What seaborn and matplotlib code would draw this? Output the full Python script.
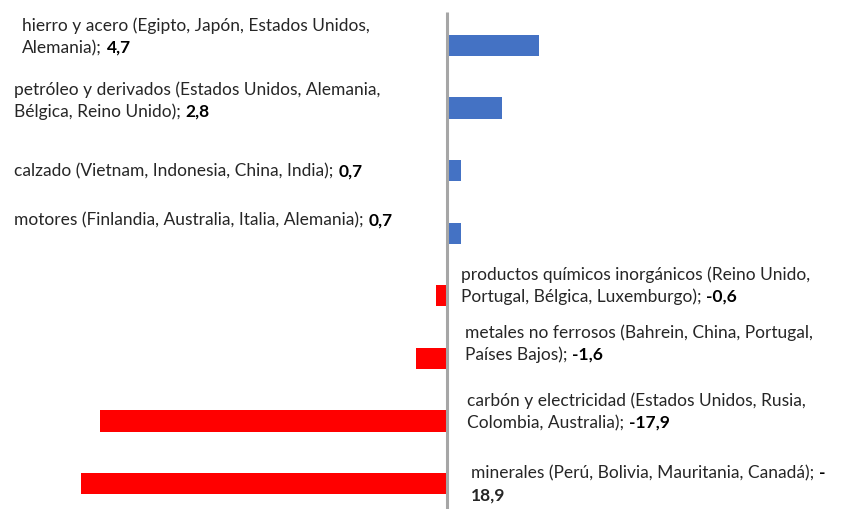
import matplotlib
matplotlib.use("Agg")
import matplotlib.pyplot as plt
import matplotlib.transforms as mtransforms
import seaborn as sns
import pandas as pd

# data
categories = ["hierro y acero", "petróleo y derivados", "calzado", "motores",
              "productos químicos inorgánicos", "metales no ferrosos",
              "carbón y electricidad", "minerales"]
values = [4.7, 2.8, 0.7, 0.7, -0.6, -1.6, -17.9, -18.9]
# label text (regular part), line breaks as in the original
label_text = [
    "hierro y acero (Egipto, Japón, Estados Unidos,\nAlemania);",
    "petróleo y derivados (Estados Unidos, Alemania,\nBélgica, Reino Unido);",
    "calzado (Vietnam, Indonesia, China, India);",
    "motores (Finlandia, Australia, Italia, Alemania);",
    "productos químicos inorgánicos (Reino Unido,\nPortugal, Bélgica, Luxemburgo);",
    "metales no ferrosos (Bahrein, China, Portugal,\nPaíses Bajos);",
    "carbón y electricidad (Estados Unidos, Rusia,\nColombia, Australia);",
    "minerales (Perú, Bolivia, Mauritania, Canadá);",
]
value_breaks = [False, False, False, False, False, False, False, True]

# label layout (pixels): left edge and vertical shift vs bar centre
label_x_px = [22, 14, 14, 14, 461, 465, 467, 471]
label_dy_px = [-8.5, -7.5, 1, -12.5, -10.5, -14.5, -9, 1]

df = pd.DataFrame({"cat": categories, "val": values})
df["sign"] = ["pos" if v >= 0 else "neg" for v in values]

W, H, DPI = 859, 509, 100
fig = plt.figure(figsize=(W / DPI, H / DPI), dpi=DPI)
ax = fig.add_axes([0, 0, 1, 1])

sns.barplot(data=df, x="val", y="cat", hue="sign", orient="h",
            palette={"pos": "#4472C4", "neg": "#FF0000"}, width=0.34,
            dodge=False, legend=False, ax=ax, saturation=1)

zero_px = 447.5
unit_px = 19.4
ax.set_xlim(-zero_px / unit_px, (W - zero_px) / unit_px)
row_px = 62.57
top_center = 45.5
ax.set_ylim(7 + (H - (top_center + 7 * row_px)) / row_px, -top_center / row_px)
ax.axis("off")

# vertical axis line
ax.vlines(0, ymin=(12 - top_center) / row_px, ymax=7.5, color="#A6A6A6", lw=2.2, zorder=3)

font = "Lato"
fs = 12.5
line_px = 22
line_pt = line_px * 72 / DPI

for i, (txt, v) in enumerate(zip(label_text, values)):
    vs = f"{v:.1f}".replace(".", ",")
    lines = [[(s, False)] for s in txt.split("\n")]
    if value_breaks[i]:
        lines[-1].append((vs[0], True))
        lines.append([(vs[1:], True)])
    else:
        lines[-1].append((vs, True))
    n = len(lines)
    xd = (label_x_px[i] - zero_px) / unit_px
    yd = i + label_dy_px[i] / row_px
    for j, segs in enumerate(lines):
        off = -(j - (n - 1) / 2) * line_pt
        tr = mtransforms.offset_copy(ax.transData, fig=fig, x=0, y=off, units="points")
        first, bold = segs[0]
        t = ax.text(xd, yd, first, transform=tr, ha="left", va="center",
                    fontsize=fs, family=font, fontweight="bold" if bold else "normal",
                    color="#262626")
        for s, b in segs[1:]:
            ax.annotate(s, xy=(1, 0.5), xycoords=t, xytext=(3.5, 0),
                        textcoords="offset points", ha="left", va="center",
                        fontsize=fs, family=font,
                        fontweight="bold" if b else "normal", color="#000000")

fig.savefig("out.png", dpi=DPI)
